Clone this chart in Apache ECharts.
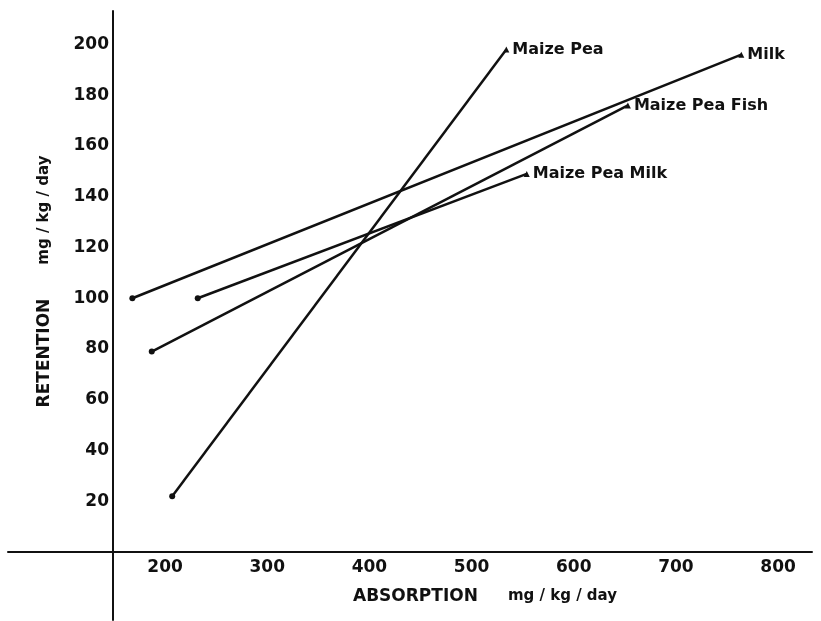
<!DOCTYPE html>
<html>
<head>
<meta charset="utf-8">
<script src="https://cdn.jsdelivr.net/npm/echarts@6/dist/echarts.min.js"></script>
<style>
  html, body { margin: 0; padding: 0; background: #fff; }
  #chart { width: 821px; height: 621px; }
</style>
</head>
<body>
<div id="chart"></div>
<script>
// diets, each drawn as a straight line from low to high intake
var dietNames = ['Maize Pea', 'Milk', 'Maize Pea Fish', 'Maize Pea Milk'];
var absorption = [[207, 534], [168, 764], [187, 653], [232, 554]];
var retention = [[22, 198], [100, 196], [79, 176], [100, 149]];

var xTicks = [200, 300, 400, 500, 600, 700, 800];
var yTicks = [20, 40, 60, 80, 100, 120, 140, 160, 180, 200];

var ink = '#111';
var font = 'DejaVu Sans';

var chart = echarts.init(document.getElementById('chart'));

var series = dietNames.map(function (name, i) {
  return {
    name: name,
    type: 'line',
    xAxisIndex: 0,
    yAxisIndex: 0,
    data: [
      { value: [absorption[i][0], retention[i][0]], symbol: 'circle', symbolSize: 6 },
      {
        value: [absorption[i][1], retention[i][1]], symbol: 'triangle', symbolSize: 6,
        label: {
          show: true, position: 'right', distance: 3, formatter: name,
          color: ink, fontFamily: font, fontWeight: 'bold', fontSize: 16
        }
      }
    ],
    lineStyle: { color: ink, width: 2.5 },
    itemStyle: { color: ink },
    animation: false
  };
});

var option = {
  backgroundColor: '#fff',
  grid: [
    { left: 8, right: 9, top: 11, bottom: 69, outerBoundsMode: 'none' },
    // lower strip: only carries the y axis line below the x axis
    { left: 8, right: 9, top: 552, bottom: 1, outerBoundsMode: 'none' }
  ],
  xAxis: [{
    gridIndex: 0,
    type: 'value',
    min: 46.3,
    max: 833.2,
    axisLine: { onZero: false, lineStyle: { color: ink, width: 2 } },
    axisTick: { show: false },
    splitLine: { show: false },
    axisLabel: {
      customValues: xTicks,
      margin: 7,
      color: ink, fontFamily: font, fontWeight: 'bold', fontSize: 17
    },
    name: '{a|ABSORPTION}{b|mg / kg / day}',
    nameLocation: 'middle',
    nameGap: 36,
    nameTextStyle: {
      padding: [0, 0, 0, 150],
      rich: {
        a: { color: ink, fontFamily: font, fontWeight: 'bold', fontSize: 17, padding: [0, 30, 0, 0] },
        b: { color: ink, fontFamily: font, fontWeight: 'bold', fontSize: 15 }
      }
    }
  }, {
    gridIndex: 1,
    type: 'value',
    min: 46.3,
    max: 833.2,
    show: false
  }],
  yAxis: [{
    gridIndex: 0,
    type: 'value',
    min: 0,
    max: 213.2,
    offset: -105,
    axisLine: { show: true, onZero: false, lineStyle: { color: ink, width: 2 } },
    axisTick: { show: false },
    splitLine: { show: false },
    axisLabel: {
      customValues: yTicks,
      margin: 4,
      color: ink, fontFamily: font, fontWeight: 'bold', fontSize: 17
    },
    name: '{a|RETENTION}{b|mg / kg / day}',
    nameLocation: 'middle',
    nameGap: 60,
    nameTextStyle: {
      rich: {
        a: { color: ink, fontFamily: font, fontWeight: 'bold', fontSize: 17, padding: [0, 34, 0, 0] },
        b: { color: ink, fontFamily: font, fontWeight: 'bold', fontSize: 15 }
      }
    }
  }, {
    gridIndex: 1,
    type: 'value',
    min: 0,
    max: 1,
    offset: -105,
    axisLine: { show: true, onZero: false, lineStyle: { color: ink, width: 2 } },
    axisTick: { show: false },
    axisLabel: { show: false },
    splitLine: { show: false }
  }],
  series: series
};

chart.setOption(option);
</script>
</body>
</html>
